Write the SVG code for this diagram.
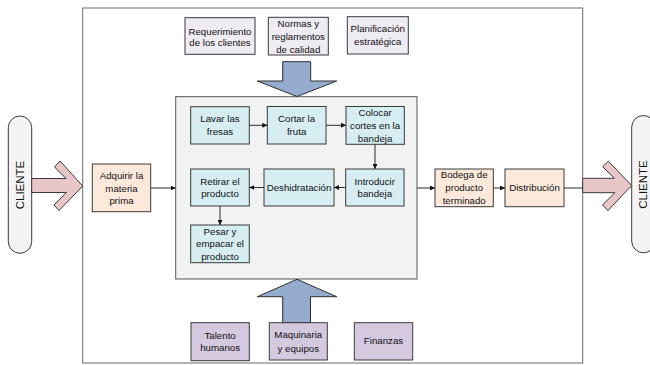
<svg xmlns="http://www.w3.org/2000/svg" width="650" height="365" viewBox="0 0 650 365">
<defs>
<style>
text{font-family:"Liberation Sans",Arial,sans-serif;font-size:9.7px;fill:#111;text-anchor:middle;dominant-baseline:central}
.box{stroke:#3a3a3a;stroke-width:1}
.proc{fill:#d6edf2}
.peach{fill:#fde9dc}
.lav{fill:#efebf3}
.pur{fill:#d5c9e0}
.big{fill:#96acce;stroke:#2e2e2e;stroke-width:1}
.pink{fill:#e8c5c7;stroke:#3a3a3a;stroke-width:1}
.pill{fill:#f4f4f4;stroke:#3a3a3a;stroke-width:1}
.con{stroke:#2a2a2a;stroke-width:1;fill:none}
.cl{font-size:11.5px}
</style>
<marker id="ah" viewBox="0 0 6 6" refX="6" refY="3" markerWidth="5" markerHeight="5" orient="auto" markerUnits="userSpaceOnUse">
<path d="M0,0 L6,3 L0,6 z" fill="#111"/>
</marker>
</defs>
<rect width="650" height="365" fill="#fff"/>
<g id="outer"><rect x="82.7" y="8" width="500" height="355" fill="#fff" stroke="#6a6a6a" stroke-width="1"/></g>
<g id="inner"><rect x="175.7" y="96.7" width="241.3" height="182.3" fill="#f2f2f2" stroke="#555" stroke-width="1"/></g>

<g id="cliente-left">
<rect class="pill" x="8.3" y="116" width="23.4" height="137.3" rx="11.7" ry="11.7"/>
<text class="cl" transform="translate(20,185) rotate(-90)">CLIENTE</text>
</g>
<g id="cliente-right">
<rect class="pill" x="631.7" y="115.5" width="23.4" height="137.3" rx="11.7" ry="11.7"/>
<text class="cl" transform="translate(643.4,184.5) rotate(-90)">CLIENTE</text>
</g>

<g id="arrow-in"><polygon class="pink" points="31.7,178.5 66,178.5 54.5,167 60,161 82.7,186 59,210.5 54,205 66.3,192.5 31.7,192.5"/></g>
<g id="arrow-out"><polygon class="pink" points="582.7,178.3 614.3,178.3 602.7,166.7 608.3,161.2 631.7,185.5 608,210.5 602.5,205 614.8,192.7 582.7,192.7"/></g>
<g id="arrow-top"><polygon class="big" points="282.7,61.7 310.7,61.7 310.7,81 336.7,81 297,96.5 257.3,81 282.7,81"/></g>
<g id="arrow-bottom"><polygon class="big" points="297,279.3 336.7,296.7 310.5,296.7 310.5,322.7 282.7,322.7 282.7,296.7 257.3,296.7"/></g>

<g id="requerimiento"><rect class="box lav" x="185" y="17.7" width="70" height="36.6"/><text x="220" y="31.2">Requerimiento</text><text x="220" y="42.5">de los clientes</text></g>
<g id="normas"><rect class="box lav" x="268.3" y="17.3" width="60" height="37.7"/><text x="298.3" y="23.8">Normas y</text><text x="298.3" y="36.5">reglamentos</text><text x="298.3" y="49.2">de calidad</text></g>
<g id="planificacion"><rect class="box lav" x="347.3" y="16.7" width="61" height="37.3"/><text x="377.8" y="28.5">Planificación</text><text x="377.8" y="41.5">estratégica</text></g>

<g id="lavar"><rect class="box proc" x="190.7" y="106.7" width="58.6" height="37.3"/><text x="220" y="118.6">Lavar las</text><text x="220" y="131.2">fresas</text></g>
<g id="cortar"><rect class="box proc" x="267.3" y="106.5" width="58.7" height="37.5"/><text x="296.6" y="118.6">Cortar la</text><text x="296.6" y="131.2">fruta</text></g>
<g id="colocar"><rect class="box proc" x="346" y="106.5" width="58.3" height="37.8"/><text x="375.1" y="112.6">Colocar</text><text x="375.1" y="125.3">cortes en la</text><text x="375.1" y="138">bandeja</text></g>
<g id="introducir"><rect class="box proc" x="345.7" y="169" width="58.3" height="37"/><text x="374.8" y="181.6">Introducir</text><text x="374.8" y="193.4">bandeja</text></g>
<g id="deshidratacion"><rect class="box proc" x="264" y="169" width="70" height="37"/><text x="299" y="187.3">Deshidratación</text></g>
<g id="retirar"><rect class="box proc" x="190.7" y="169" width="58.6" height="37"/><text x="220" y="181.6">Retirar el</text><text x="220" y="193.4">producto</text></g>
<g id="pesar"><rect class="box proc" x="190.7" y="225" width="58.6" height="37.7"/><text x="220" y="231.2">Pesar y</text><text x="220" y="243.8">empacar el</text><text x="220" y="256.4">producto</text></g>

<g id="adquirir"><rect class="box peach" x="92.3" y="164" width="58.4" height="47.7"/><text x="121.5" y="175.7">Adquirir la</text><text x="121.5" y="188.2">materia</text><text x="121.5" y="200.5">prima</text></g>
<g id="bodega"><rect class="box peach" x="435" y="169" width="58.3" height="37.7"/><text x="464.2" y="174.5">Bodega de</text><text x="464.2" y="187.3">producto</text><text x="464.2" y="200">terminado</text></g>
<g id="distribucion"><rect class="box peach" x="505" y="169" width="59" height="37.7"/><text x="534.5" y="187.5">Distribución</text></g>

<g id="talento"><rect class="box pur" x="191" y="322.7" width="58.3" height="38"/><text x="220.1" y="335.5">Talento</text><text x="220.1" y="347">humanos</text></g>
<g id="maquinaria"><rect class="box pur" x="269.3" y="322.7" width="58" height="37.3"/><text x="298.3" y="334">Maquinaria</text><text x="298.3" y="348">y equipos</text></g>
<g id="finanzas"><rect class="box pur" x="354.3" y="322.7" width="58.4" height="37.3"/><text x="383.5" y="340.8">Finanzas</text></g>

<g id="connectors">
<line class="con" x1="249.3" y1="125.3" x2="267.3" y2="125.3" marker-end="url(#ah)"/>
<line class="con" x1="326" y1="125.3" x2="346" y2="125.3" marker-end="url(#ah)"/>
<line class="con" x1="375" y1="144.3" x2="375" y2="169" marker-end="url(#ah)"/>
<line class="con" x1="345.7" y1="187.5" x2="334" y2="187.5" marker-end="url(#ah)"/>
<line class="con" x1="264" y1="187.5" x2="249.3" y2="187.5" marker-end="url(#ah)"/>
<line class="con" x1="220" y1="206" x2="220" y2="225" marker-end="url(#ah)"/>
<line class="con" x1="150.7" y1="188" x2="175.7" y2="188" marker-end="url(#ah)"/>
<line class="con" x1="417" y1="188" x2="435" y2="188" marker-end="url(#ah)"/>
<line class="con" x1="493.3" y1="188" x2="505" y2="188" marker-end="url(#ah)"/>
<line class="con" x1="564" y1="188" x2="582.7" y2="188"/>
</g>
</svg>
